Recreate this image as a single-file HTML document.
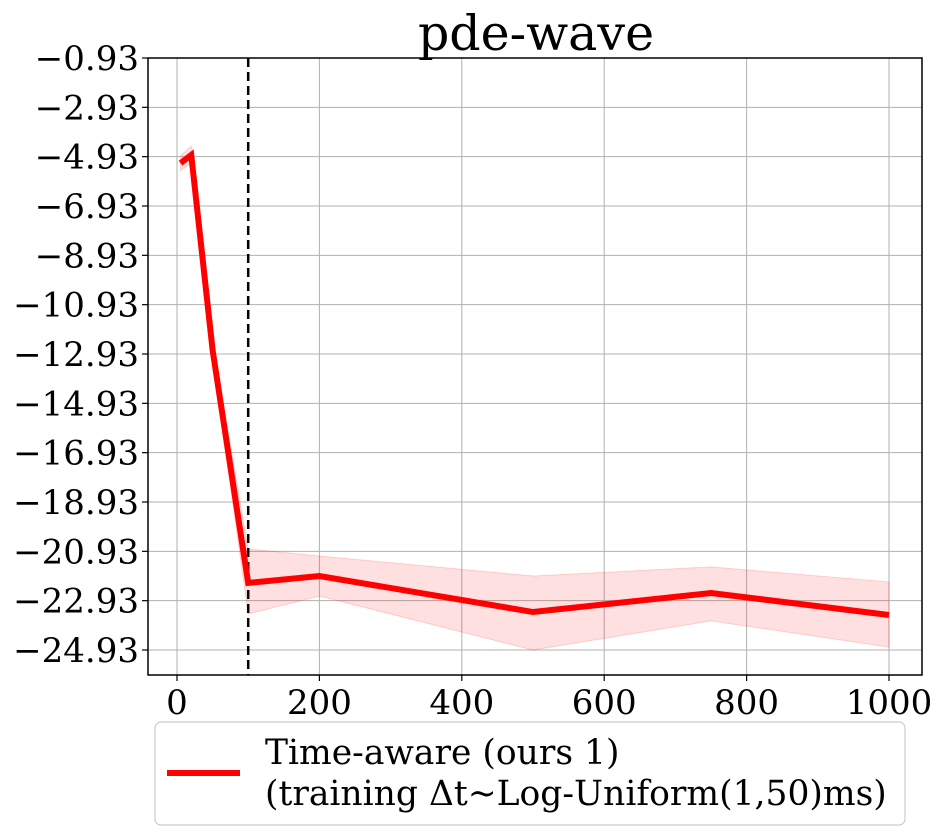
<!DOCTYPE html>
<html><head><meta charset="utf-8"><style>
body{margin:0;background:#fff}
svg text{font-family:"DejaVu Serif","Liberation Serif",serif;fill:#000}
</style></head><body>
<svg id="c" width="942" height="835"></svg>
<script>
const xs=[5,20,50,100,200,500,750,1000];
const mean=[-5.19,-4.86,-12.77,-22.21,-21.93,-23.39,-22.62,-23.51];
const upper=[-4.9,-4.5,-12.45,-20.83,-21.12,-21.93,-21.56,-22.17];
const lower=[-5.5,-5.2,-13.1,-23.47,-22.74,-24.93,-23.75,-24.81];
const yticks=[-0.93,-2.93,-4.93,-6.93,-8.93,-10.93,-12.93,-14.93,-16.93,-18.93,-20.93,-22.93,-24.93];
const xticks=[0,200,400,600,800,1000];
const vline=100;
const L=148,R=922,T=58,B=675;
const X=v=>177+v*0.712;
const Y=v=>58+(-0.93-v)*24.667;
const svg=document.getElementById('c');const NS='http://www.w3.org/2000/svg';
function mk(t,a,p){const e=document.createElementNS(NS,t);for(const k in a)e.setAttribute(k,a[k]);(p||svg).appendChild(e);return e;}
yticks.forEach(v=>{const g=mk('line',{x1:L,x2:R,y1:Y(v),y2:Y(v),stroke:'#b0b0b0','stroke-width':1});

const tk=mk('line',{x1:L-6,x2:L,y1:Y(v),y2:Y(v),stroke:'#000','stroke-width':1.2});

const t=mk('text',{x:L-9,y:Y(v)+12,'text-anchor':'end','font-size':34});t.textContent=String(v).replace('-','\u2212');
});
xticks.forEach(v=>{const g=mk('line',{x1:X(v),x2:X(v),y1:T,y2:B,stroke:'#b0b0b0','stroke-width':1});

const tk=mk('line',{x1:X(v),x2:X(v),y1:B,y2:B+6,stroke:'#000','stroke-width':1.2});

const t=mk('text',{x:X(v),y:B+39,'text-anchor':'middle','font-size':34});t.textContent=v;
});
let d='';xs.forEach((x,i)=>d+=(i?'L':'M')+X(x)+','+Y(upper[i]));
for(let i=xs.length-1;i>=0;i--)d+='L'+X(xs[i])+','+Y(lower[i]);
const band=mk('path',{d:d+'Z',fill:'rgba(255,0,0,0.12)',stroke:'rgba(255,0,0,0.15)'});

const vl=mk('line',{x1:X(vline),x2:X(vline),y1:T,y2:B,stroke:'#000','stroke-width':2.5,'stroke-dasharray':'9,5'});

const ln=mk('polyline',{points:xs.map((x,i)=>X(x)+','+Y(mean[i])).join(' '),fill:'none',stroke:'#ff0000','stroke-width':6,'stroke-linejoin':'miter'});

const fr=mk('rect',{x:L,y:T,width:R-L,height:B-T,fill:'none',stroke:'#000','stroke-width':1.5});

const ti=mk('text',{x:536,y:50,'text-anchor':'middle','font-size':49});ti.textContent='pde-wave';

const lg=mk('g',{});
mk('rect',{x:155,y:722,width:750,height:103,rx:6,fill:'#fff',stroke:'#ccc','stroke-width':1.2},lg);
mk('line',{x1:167,x2:240,y1:773,y2:773,stroke:'#ff0000','stroke-width':6},lg);
const t1=mk('text',{x:265,y:764,'font-size':34.5},lg);t1.textContent='Time-aware (ours 1)';
const t2=mk('text',{x:265,y:805,'font-size':34.5},lg);t2.textContent='(training \u0394t~Log-Uniform(1,50)ms)';


</script>
</body></html>
